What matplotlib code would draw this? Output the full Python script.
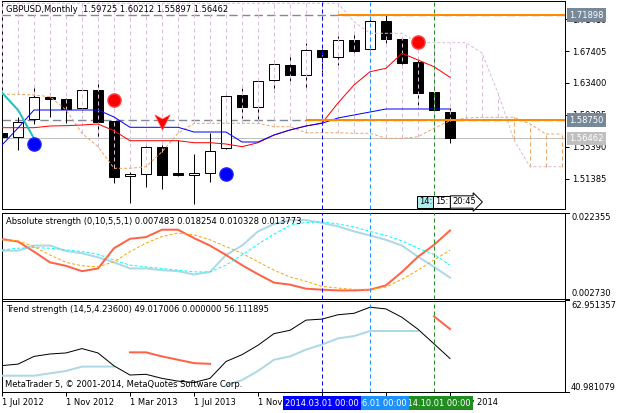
import matplotlib
matplotlib.use("Agg")
import matplotlib.pyplot as plt
from matplotlib.transforms import blended_transform_factory
from matplotlib.path import Path
import numpy as np

plt.rcParams['font.family'] = ['DejaVu Sans']

W, H = 618, 413
PX = 0.72          # one pixel in points
FS = 6.0           # font size

# ---------------- data ----------------
months = ["2012-07", "2012-08", "2012-09", "2012-10", "2012-11", "2012-12",
          "2013-01", "2013-02", "2013-03", "2013-04", "2013-05", "2013-06",
          "2013-07", "2013-08", "2013-09", "2013-10", "2013-11", "2013-12",
          "2014-01", "2014-02", "2014-03", "2014-04", "2014-05", "2014-06",
          "2014-07", "2014-08", "2014-09", "2014-10", "2014-11"]

opens  = [1.5714, 1.5668, 1.5889, 1.6161, 1.6140, 1.6023, 1.6252, 1.5865, 1.5176, 1.5201,
          1.5543, 1.5210, 1.5192, 1.5210, 1.5523, 1.6190, 1.6043, 1.6374, 1.6565, 1.6436,
          1.6753, 1.6662, 1.6878, 1.6762, 1.7116, 1.6891, 1.6603, 1.6231, 1.59725]
highs  = [1.5760, 1.5918, 1.6302, 1.6219, 1.6150, 1.6277, 1.6378, 1.5870, 1.5230, 1.5585,
          1.5605, 1.5627, 1.5451, 1.5718, 1.6190, 1.6274, 1.6394, 1.6628, 1.6678, 1.6837,
          1.6795, 1.6928, 1.6982, 1.7137, 1.7190, 1.6919, 1.6628, 1.6252, 1.60212]
lows   = [1.5560, 1.5501, 1.5827, 1.5911, 1.5836, 1.5977, 1.5668, 1.5085, 1.4834, 1.5035,
          1.5010, 1.5176, 1.4826, 1.5105, 1.5518, 1.5898, 1.5889, 1.6231, 1.6369, 1.6274,
          1.6481, 1.6565, 1.6712, 1.6753, 1.6837, 1.6565, 1.6065, 1.5981, 1.55897]
closes = [1.5664, 1.5856, 1.6161, 1.6136, 1.6011, 1.6252, 1.5856, 1.5167, 1.5201, 1.5535,
          1.5192, 1.5192, 1.5214, 1.5493, 1.6181, 1.6043, 1.6365, 1.6578, 1.6436, 1.6753,
          1.6662, 1.6878, 1.6744, 1.7116, 1.6887, 1.6594, 1.6219, 1.6002, 1.56462]

tenkan = [1.57806, 1.57806, 1.57806, 1.58018, 1.58056, 1.58143, 1.58269, 1.57430, 1.56178, 1.56178,
          1.56178, 1.56178, 1.55928, 1.55928, 1.55765, 1.55428, 1.55928, 1.56892, 1.57518, 1.58018,
          1.58394, 1.60897, 1.63150, 1.64814, 1.65240, 1.67117, 1.66279, 1.65440, 1.64113]
kijun  = [1.55640, 1.57768, 1.60021, 1.60021, 1.60021, 1.60021, 1.60021, 1.59145, 1.57856, 1.57856,
          1.57856, 1.57856, 1.57267, 1.57267, 1.57267, 1.56016, 1.56016, 1.56892, 1.57518, 1.58018,
          1.58356, 1.59019, 1.59395, 1.59770, 1.60146, 1.60146, 1.60146, 1.60146, 1.60146]
senkou_a = [1.61986, 1.61986, 1.61898, 1.61685, 1.60021, 1.57105, 1.55428, 1.52724, 1.52724, 1.52924,
            1.54802, 1.57105, 1.58356, 1.58356, 1.58356, 1.58356, 1.58356, 1.57931, 1.57931, 1.57180,
            1.57180, 1.57180, 1.57105, 1.57105, 1.56479, 1.56479, 1.56679, 1.57730, 1.58682, 1.59019,
            1.59107, 1.59107, 1.59107, 1.58288, 1.57017, 1.57017]
senkou_b = [1.73375, 1.73375, 1.73375, 1.73375, 1.73375, 1.73375, 1.73375, 1.73375, 1.73375, 1.73375,
            1.73375, 1.73375, 1.73375, 1.73375, 1.73375, 1.73375, 1.73375, 1.73375, 1.73375, 1.73375,
            1.73375, 1.73375, 1.71072, 1.69620, 1.69620, 1.69620, 1.68444, 1.68444, 1.68444, 1.68444,
            1.67155, 1.62148, 1.56266, 1.52924, 1.52924, 1.52924]

sell_dots = [(7, 1.61272), (26, 1.68569)]
buy_dots = [(2, 1.55766), (14, 1.52010)]
sell_arrows = [(10, 1.58556)]

hlines = [1.71898, 1.58750]
hline_start = [21, 19]
last_price = 1.56462

price_ticks = [1.71410, 1.67405, 1.63400, 1.59395, 1.55390, 1.51385]

abs_buf1 = [0.013651, 0.013651, 0.014805, 0.014805, 0.013582, 0.013051, 0.012127, 0.010973, 0.009587, 0.009587,
            0.009195, 0.008964, 0.008202, 0.008802, 0.012658, 0.014805, 0.018038, 0.019746, 0.020577, 0.020623,
            0.019977, 0.019192, 0.018038, 0.017114, 0.016121, 0.014805, 0.012265, 0.009957, 0.007483]
abs_buf2 = [0.016283, 0.015729, 0.013420, 0.010973, 0.010188, 0.008964, 0.009587, 0.014205, 0.016352, 0.016745,
            0.018430, 0.018430, 0.016514, 0.014805, 0.012658, 0.010349, 0.008271, 0.006355, 0.005893, 0.004970,
            0.004739, 0.004577, 0.004577, 0.004739, 0.005732, 0.008802, 0.012265, 0.014967, 0.018254]
abs_buf3 = [0.013812, 0.014205, 0.014343, 0.014205, 0.013812, 0.013420, 0.012820, 0.011504, 0.010349, 0.009957,
            0.009587, 0.009195, 0.008802, 0.008802, 0.010349, 0.012658, 0.015128, 0.017437, 0.019423, 0.020092,
            0.020208, 0.019746, 0.019053, 0.018038, 0.017114, 0.015890, 0.014205, 0.012820, 0.010328]
abs_buf4 = [0.016121, 0.015890, 0.014574, 0.012658, 0.010973, 0.010188, 0.009957, 0.011111, 0.013420, 0.015359,
            0.016883, 0.017668, 0.017276, 0.016121, 0.014574, 0.013051, 0.011111, 0.009195, 0.007648, 0.006655,
            0.005501, 0.005108, 0.004808, 0.004808, 0.005339, 0.007117, 0.009195, 0.011504, 0.013773]
abs_range = [0.002730, 0.022355]

nan = float('nan')
trend_main = [47.328, 47.670, 49.525, 50.111, 50.355, 51.405, 50.355, 47.255, 45.058, 45.229,
              44.252, 43.593, 43.276, 44.252, 48.305, 49.940, 52.210, 54.993, 55.799, 58.240,
              58.484, 59.533, 59.875, 61.340, 60.925, 58.899, 56.043, 52.552, 49.017006]
trend_up = [44.887, 44.887, 44.887, 45.473, 46.034, 47.084, 47.084, 47.084, nan, nan,
            nan, nan, nan, nan, 42.617, 43.837, 46.034, 48.719, 49.525, 51.160,
            52.381, 53.846, 54.407, 55.628, 55.628, 55.628, 55.628, nan, nan]
trend_dn = [nan, nan, nan, nan, nan, nan, nan, nan, 50.502, 50.502,
            49.525, 48.719, 47.914, 47.743, nan, nan, nan, nan, nan, nan,
            nan, nan, nan, nan, nan, nan, nan, 59.143, 56.111895]
trend_range = [40.981079, 62.951357]

xtick_pos = [0, 4, 8, 12, 16, 20, 24, 28]
xtick_labels = ["1 Jul 2012", "1 Nov 2012", "1 Mar 2013", "1 Jul 2013",
                "1 Nov 2013", "1 Mar 2014", "1 Jul 2014", "1 Nov 2014"]

vlines = [(20, "#0000FF", "2014.03.01 00:00"),
          (23, "#1E90FF", "2014.06.01 00:00"),
          (27, "#228B22", "2014.10.01 00:00")]

title_main = "GBPUSD,Monthly  1.59725 1.60212 1.55897 1.56462"
title_abs = "Absolute strength (0,10,5,5,1) 0.007483 0.018254 0.010328 0.013773"
title_trend = "Trend strength (14,5,4.23600) 49.017006 0.000000 56.111895"
copyright_txt = "MetaTrader 5, \u00a9 2001-2014, MetaQuotes Software Corp."

# ---------------- figure ----------------
fig = plt.figure(figsize=(W / 100, H / 100), dpi=100)
fig.patch.set_facecolor("white")


def rect(x0, y0, x1, y1):
    return [x0 / W, 1 - y1 / H, (x1 - x0) / W, (y1 - y0) / H]


def fx(x):
    return x / W


def fy(y):
    return 1 - y / H


ax1 = fig.add_axes(rect(2, 1, 565, 209))
ax2 = fig.add_axes(rect(2, 212.5, 565, 298.5))
ax3 = fig.add_axes(rect(2, 300.5, 565, 392))

xmax = 35.1875
for ax in (ax1, ax2, ax3):
    ax.set_xlim(0, xmax)
    ax.set_facecolor("white")
    for s in ax.spines.values():
        s.set_linewidth(PX)
        s.set_color("black")
    ax.tick_params(axis="x", bottom=False, labelbottom=False)

n = len(months)
xs = np.arange(n)

# ---- main panel ----
ax1.set_ylim(1.4763, 1.73663)
ax1.yaxis.tick_right()
ax1.set_yticks(price_ticks)
ax1.set_yticklabels(["%.5f" % v for v in price_ticks])
ax1.tick_params(axis="y", length=4 * PX, width=PX, pad=2.2, labelsize=FS)

# horizontal lines
ax1.axhline(last_price, color="#C0C0C0", lw=PX, zorder=1)
for lvl, st in zip(hlines, hline_start):
    ax1.axhline(lvl, color="#7F8A96", lw=1.4 * PX, ls=(0, (6, 3)), zorder=1)
    ax1.plot([st, xmax], [lvl, lvl], color="#FF8C00", lw=2 * PX, zorder=6,
             solid_capstyle="butt")

# candles
for k in range(n):
    o, h, l, c = opens[k], highs[k], lows[k], closes[k]
    ax1.vlines(k, l, h, color="black", lw=PX, zorder=2)
    bull = c >= o
    ax1.bar(k, max(abs(c - o), 0.0004), bottom=min(o, c), width=0.6,
            facecolor="white" if bull else "black", edgecolor="black",
            lw=PX, zorder=3)

# cloud (vertical dashed hatch)
ks = np.arange(len(senkou_a))
for k in ks:
    a, b = senkou_a[k], senkou_b[k]
    col = "#D8BFD8" if b > a else "#F4A460"
    ax1.vlines(k, min(a, b), max(a, b), colors=col, lw=PX,
               linestyles=[(0, (4, 3))], zorder=4)
ax1.plot(ks, senkou_a, color="#F4A460", lw=PX, ls=(0, (3, 2)), zorder=4)
ax1.plot(ks, senkou_b, color="#D8BFD8", lw=PX, ls=(0, (3, 2)), zorder=4)

# tenkan / kijun / chikou
ax1.plot(xs, tenkan, color="#FF0000", lw=PX, zorder=5)
ax1.plot(xs, kijun, color="#0000FF", lw=PX, zorder=5)
ax1.plot(xs - 26, closes, color="#20C0C0", lw=2 * PX, zorder=5)

# signals
for k, p in sell_dots:
    ax1.plot(k, p, "o", ms=9.5, color="#FF0000", mec="#FF4040", zorder=7)
for k, p in buy_dots:
    ax1.plot(k, p, "o", ms=9.5, color="#0000FF", mec="#2020FF", zorder=7)
arrow = Path([(-1, 1), (0, 0.45), (1, 1), (0, -1), (-1, 1)],
             [Path.MOVETO, Path.LINETO, Path.LINETO, Path.LINETO, Path.CLOSEPOLY])
for k, p in sell_arrows:
    ax1.plot(k, p, marker=arrow, ms=11, color="#FF0000", mec="#FF6060",
             mew=0.5, zorder=7)

# price labels on the right
tr = blended_transform_factory(ax1.transAxes, ax1.transData)
for lvl in hlines:
    ax1.text(1.0 + 4.5 / 563, lvl, "%.5f" % lvl, transform=tr, ha="left",
             va="center", fontsize=FS, color="white", zorder=10,
             bbox=dict(boxstyle="square,pad=0.28", fc="#778899", ec="none"))
ax1.text(1.0 + 4.5 / 563, last_price, "%.5f" % last_price, transform=tr,
         ha="left", va="center", fontsize=FS, color="white", zorder=10,
         bbox=dict(boxstyle="square,pad=0.28", fc="#C0C0C0", ec="none"))

# time-to-close label
fig.text(fx(419), fy(202), "14:", fontsize=FS, ha="left", va="center", zorder=20,
         bbox=dict(boxstyle="square,pad=0.2", fc="#AFEEEE", ec="black", lw=PX))
fig.text(fx(435), fy(202), "15:", fontsize=FS, ha="left", va="center", zorder=20,
         bbox=dict(boxstyle="square,pad=0.2", fc="white", ec="black", lw=PX))
fig.text(fx(452), fy(202), "20:45", fontsize=FS, ha="left", va="center", zorder=20,
         bbox=dict(boxstyle="rarrow,pad=0.2", fc="white", ec="black", lw=PX))

fig.text(fx(6), fy(10), title_main, fontsize=FS, ha="left", va="center")

# ---- absolute strength panel ----
ax2.set_ylim(*abs_range)
ax2.set_yticks([])
ax2.plot(xs, abs_buf1, color="#ADD8E6", lw=2 * PX, zorder=3)
ax2.plot(xs, abs_buf2, color="#FF6347", lw=2 * PX, zorder=3)
ax2.plot(xs, abs_buf3, color="#00FFFF", lw=PX, ls=(0, (3, 2)), zorder=3)
ax2.plot(xs, abs_buf4, color="#FFA500", lw=PX, ls=(0, (3, 2)), zorder=3)
ax2.text(4 / 563, 1 - 9 / 86, title_abs, transform=ax2.transAxes, fontsize=FS,
         ha="left", va="center", zorder=10)

# ---- trend strength panel ----
ax3.set_ylim(*trend_range)
ax3.set_yticks([])
ax3.plot(xs, trend_up, color="#ADD8E6", lw=2 * PX, zorder=3)
ax3.plot(xs, trend_dn, color="#FF6347", lw=2 * PX, zorder=3)
ax3.plot(xs, trend_main, color="black", lw=PX, zorder=3)
ax3.text(4 / 563, 1 - 9.5 / 91.5, title_trend, transform=ax3.transAxes,
         fontsize=FS, ha="left", va="center", zorder=10)
ax3.text(3 / 563, 1 - 84 / 91.5, copyright_txt, transform=ax3.transAxes,
         fontsize=FS, ha="left", va="center", zorder=10)

# right-side min/max labels for subpanels
for ax, rng, fmt in ((ax2, abs_range, "%.6f"), (ax3, trend_range, "%.6f")):
    trs = blended_transform_factory(ax.transAxes, ax.transData)
    ax.plot([1.0, 1.0 + 4 / 563], [rng[1], rng[1]], color="black", lw=PX,
            transform=trs, clip_on=False)
    ax.plot([1.0, 1.0 + 4 / 563], [rng[0], rng[0]], color="black", lw=PX,
            transform=trs, clip_on=False)
    ax.text(1.0 + 6 / 563, rng[1], fmt % rng[1], transform=trs, fontsize=FS,
            ha="left", va="top")
    ax.text(1.0 + 6 / 563, rng[0], fmt % rng[0], transform=trs, fontsize=FS,
            ha="left", va="bottom")

# x-axis
ax3.tick_params(axis="x", bottom=True, labelbottom=True, length=4 * PX,
                width=PX, pad=1.5, labelsize=FS)
ax3.set_xticks(xtick_pos)
ax3.set_xticklabels(xtick_labels, ha="left")

# vertical marker lines + their date labels
for i, (k, col, lab) in enumerate(vlines):
    for ax in (ax1, ax2, ax3):
        ax.axvline(k, color=col, lw=PX, ls=(0, (4, 3)), zorder=6)
    xp = 2 + 16 * k
    fig.text(fx(xp), fy(403), lab, fontsize=FS, color="white", ha="center",
             va="center", zorder=30 + i * (-1),
             bbox=dict(boxstyle="square,pad=0.25", fc=col, ec="none"))

fig.savefig("out.png", dpi=100, facecolor="white")
